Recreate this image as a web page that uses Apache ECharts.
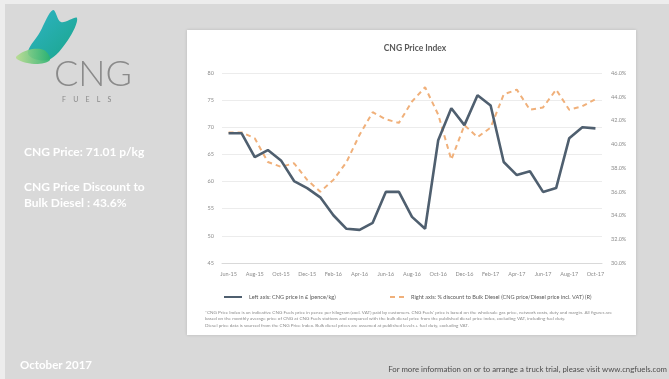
<!DOCTYPE html>
<html>
<head>
<meta charset="utf-8">
<script src="https://cdn.jsdelivr.net/npm/echarts/dist/echarts.min.js"></script>
<style>
html,body{margin:0;padding:0;background:#ededed;}
#c{width:669px;height:379px;}
</style>
</head>
<body>
<div id="c"></div>
<script>
const categories = ['Jun-15','Jul-15','Aug-15','Sep-15','Oct-15','Nov-15','Dec-15','Jan-16','Feb-16','Mar-16','Apr-16','May-16','Jun-16','Jul-16','Aug-16','Sep-16','Oct-16','Nov-16','Dec-16','Jan-17','Feb-17','Mar-17','Apr-17','May-17','Jun-17','Jul-17','Aug-17','Sep-17','Oct-17'];
const cngPrice = [68.9,68.9,64.5,65.8,63.9,60.1,58.8,57.1,53.8,51.3,51.1,52.4,58.1,58.1,53.5,51.3,67.6,73.5,70.4,75.9,74.0,63.6,61.2,61.9,58.1,58.8,68.0,70.0,69.8];
const discount = [41.0,41.0,40.5,38.5,38.1,38.4,37.0,36.0,37.0,38.5,40.8,42.7,42.1,41.8,43.6,44.8,42.5,38.7,41.6,40.6,41.4,44.2,44.6,42.9,43.1,44.6,42.9,43.2,43.8];
const leftTicks = {min: 45, max: 80, step: 5};
const rightTicks = {min: 30, max: 46, step: 2};
const seriesNames = ['Left axis: CNG price in £ (pence/kg)', 'Right axis: % discount to Bulk Diesel (CNG price/Diesel price incl. VAT) (R)'];

const chart = echarts.init(document.getElementById('c'), null, {renderer: 'canvas'});
const font = 'Lato, "Open Sans", sans-serif';
const legendBase = {top: 294, padding: 0, itemHeight: 6, itemGap: 4,
  itemStyle: {opacity: 0},
  textStyle: {fontSize: 5.6, color: '#595959', fontFamily: font, padding: [0, 0, 0, 2]}};
const option = {
  backgroundColor: '#ededed',
  animation: false,
  textStyle: {fontFamily: font},
  title: {
    text: 'CNG Price Index',
    left: 410, textAlign: 'center', top: 39,
    textStyle: {fontSize: 8.5, fontWeight: 'bold', color: '#595959', fontFamily: font}
  },
  legend: [
    Object.assign({}, legendBase, {data: [seriesNames[0]], left: 223, itemWidth: 18}),
    Object.assign({}, legendBase, {data: [seriesNames[1]], left: 389, itemWidth: 14})
  ],
  grid: {left: 222, right: 67, top: 73, bottom: 116},
  xAxis: {
    type: 'category', data: categories, boundaryGap: true,
    axisLine: {lineStyle: {color: '#d9d9d9'}},
    axisTick: {show: false},
    axisLabel: {interval: 1, fontSize: 5.5, color: '#8c8c8c', margin: 8}
  },
  yAxis: [
    {type: 'value', min: leftTicks.min, max: leftTicks.max, interval: leftTicks.step,
     axisLine: {show: false}, axisTick: {show: false},
     axisLabel: {fontSize: 5.5, color: '#8c8c8c', margin: 8},
     splitLine: {lineStyle: {color: '#ececec', width: 1}}},
    {type: 'value', min: rightTicks.min, max: rightTicks.max, interval: rightTicks.step, position: 'right',
     axisLine: {show: false}, axisTick: {show: false},
     axisLabel: {fontSize: 5.5, color: '#8c8c8c', margin: 9, formatter: v => v.toFixed(1) + '%'},
     splitLine: {show: false}}
  ],
  series: [
    {name: seriesNames[0], type: 'line', yAxisIndex: 0, data: cngPrice, showSymbol: false, symbol: 'none',
     lineStyle: {color: '#4f5f6f', width: 2.6}, itemStyle: {color: '#4f5f6f'}, z: 3},
    {name: seriesNames[1], type: 'line', yAxisIndex: 1, data: discount, showSymbol: false, symbol: 'none',
     lineStyle: {color: '#f0b07a', width: 2, type: [5, 4]}, itemStyle: {color: '#f0b07a'}, z: 2}
  ],
  graphic: [
    {type: 'rect', z: -100, silent: true, shape: {x: 5, y: 4, width: 664, height: 375}, style: {fill: '#d9d9d9'}},
    {type: 'rect', z: -99, silent: true, shape: {x: 187, y: 30, width: 449, height: 305}, style: {fill: '#ffffff', shadowBlur: 3, shadowColor: 'rgba(0,0,0,0.15)'}},
    // logo butterfly
    {type: 'polygon', z: -50, shape: {points: [[28,54],[40,32],[53,10],[61,22],[77,18],[68,40],[48,60]], smooth: 0.35},
     style: {fill: new echarts.graphic.LinearGradient(0, 0, 1, 1, [{offset: 0, color: '#2fb4c6'}, {offset: 1, color: '#1aa58a'}])}},
    {type: 'polygon', z: -49, shape: {points: [[16,58],[28,50],[44,50],[50,60],[34,64]], smooth: 0.35},
     style: {fill: new echarts.graphic.LinearGradient(0, 0, 1, 0, [{offset: 0, color: '#b7dc8e'}, {offset: 1, color: '#2cb36f'}]), opacity: 0.9}},
    {type: 'text', z: -40, left: 54, top: 56, style: {text: 'CNG', font: '300 36px ' + font, fill: '#8a8a8a'}},
    {type: 'text', z: -40, left: 62, top: 96, style: {text: 'F    U    E    L    S', font: '7px ' + font, fill: '#8a8a8a'}},
    // left side texts
    {type: 'text', z: -40, left: 24, top: 146, style: {text: 'CNG Price: 71.01 p/kg', font: 'bold 12px ' + font, fill: '#ffffff'}},
    {type: 'text', z: -40, left: 24, top: 179, style: {text: 'CNG Price Discount to\nBulk Diesel : 43.6%', font: 'bold 12px ' + font, fill: '#ffffff', lineHeight: 16}},
    {type: 'text', z: -40, left: 20, top: 359, style: {text: 'October 2017', font: 'bold 11.5px ' + font, fill: '#ffffff'}},
    {type: 'text', z: -40, right: 2, top: 365, style: {text: 'For more information on or to arrange a truck trial, please visit www.cngfuels.com', font: '7.8px ' + font, fill: '#4d4d4d'}},
    // footnote
    {type: 'text', z: -40, left: 205, top: 309, style: {
      text: '*CNG Price Index is an indicative CNG Fuels price in pence per kilogram (excl. VAT) paid by customers. CNG Fuels\' price is based on the wholesale gas price, network costs, duty and margin. All figures are\nbased on the monthly average price of CNG at CNG Fuels stations and compared with the bulk diesel price from the published diesel price index, excluding VAT, including fuel duty.\nDiesel price data is sourced from the CNG Price Index. Bulk diesel prices are assumed at published levels + fuel duty, excluding VAT.',
      font: '4.6px ' + font, fill: '#8c8c8c', lineHeight: 6.5}}
  ]
};
chart.setOption(option);
</script>
</body>
</html>
